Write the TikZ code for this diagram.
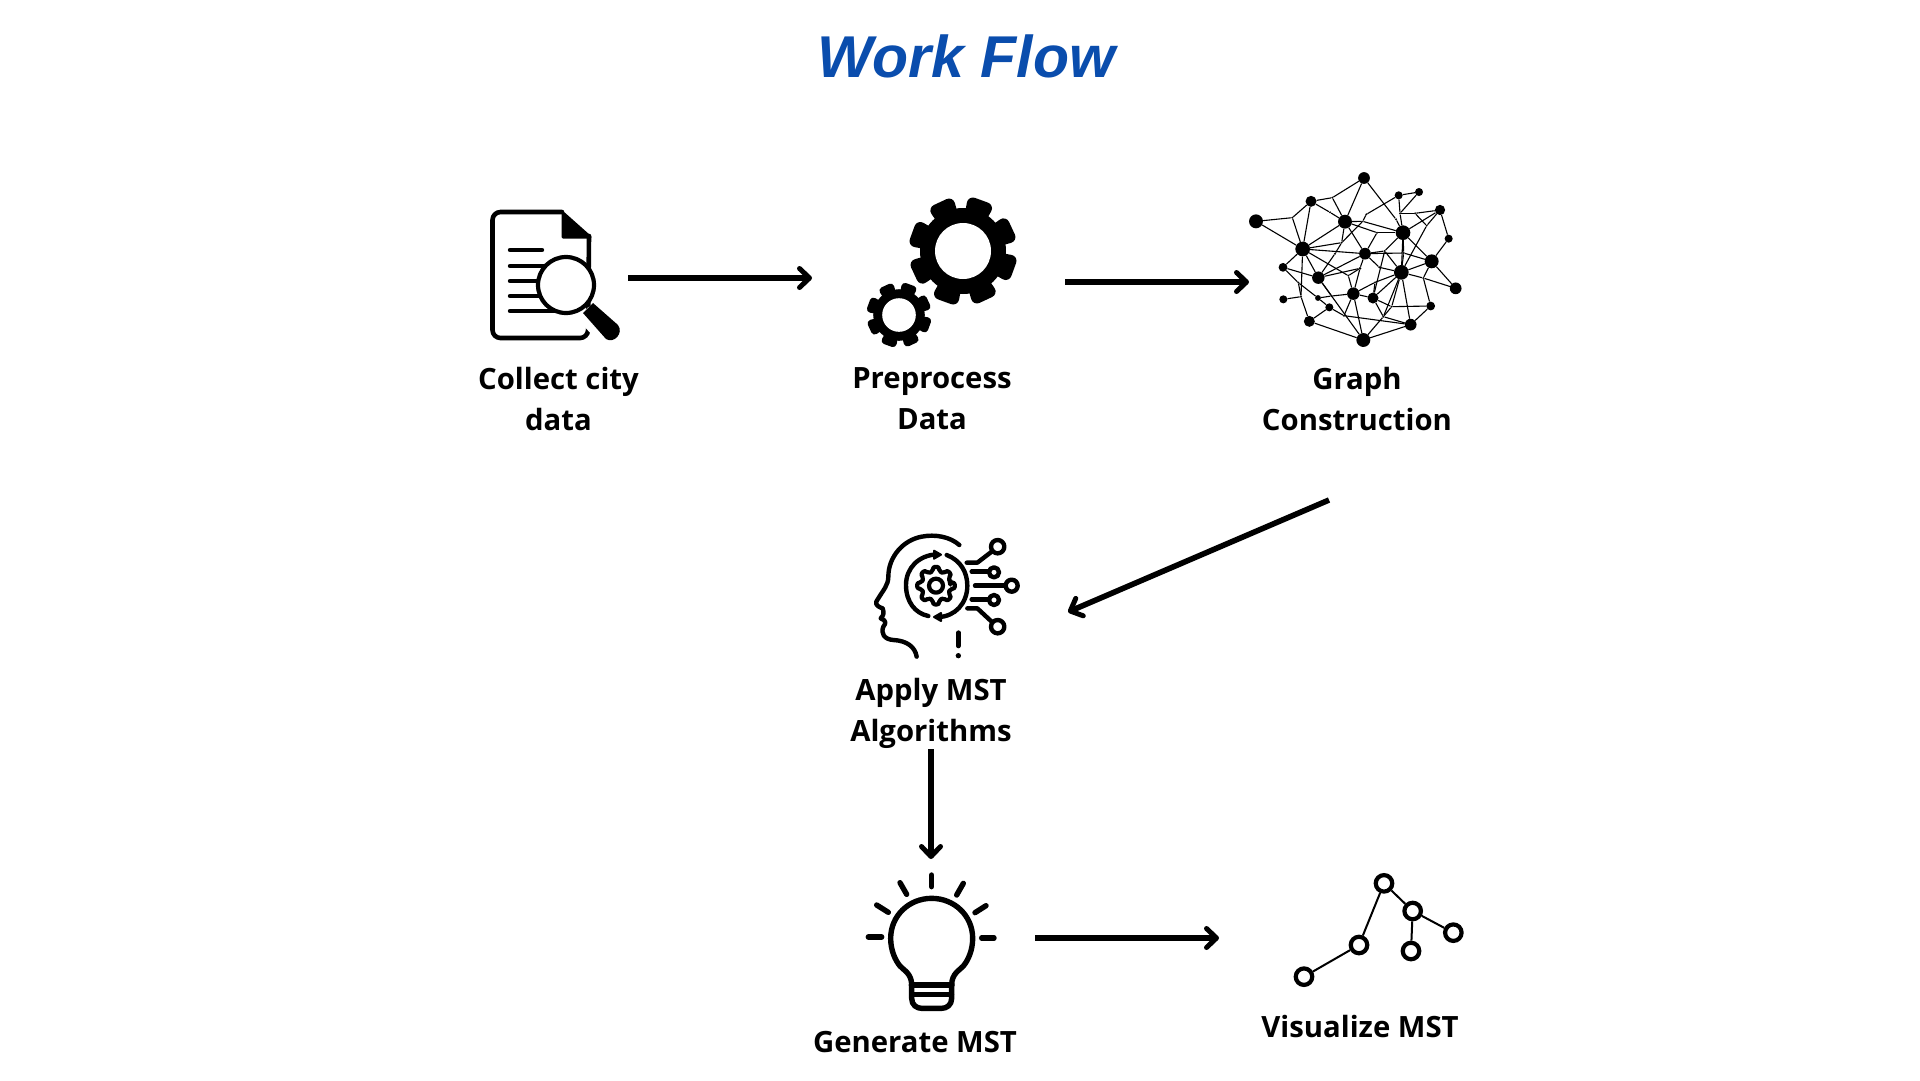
\documentclass[tikz,border=0pt]{standalone}
\usepackage{fontspec}
\setmainfont{Open Sans}
\newfontfamily\titlefont{Liberation Sans}
\usetikzlibrary{arrows.meta}
\definecolor{titleblue}{HTML}{0A4DAD}
\tikzset{
  flowarrow/.style={line width=5.6pt,-{Straight Barb[length=10pt,width=19pt,round,line width=5pt]}},
  label/.style={align=center,font=\fontsize{29.3}{41}\selectfont\bfseries,inner sep=0pt},
  netdot/.style={circle,fill=black,inner sep=0pt},
  netedge/.style={line width=1.1pt,black},
  icon/.style={line width=4.4pt,line cap=round,line join=round},
  cell/.style={shift={(#1)},x=0.33333pt,y=-0.33333pt},
  treenode/.style={circle,draw=black,line width=4.2pt,fill=white,inner sep=0pt,minimum size=16.5pt},
}
\newcommand{\mygear}[3]{%
  \begin{scope}[shift={(#1,#2)}]
    \fill[black] (0,0) circle ({43*#3});
    \foreach \k in {0,...,7}{
      \pgfmathsetmacro{\ang}{70+45*\k}
      \begin{scope}[rotate=\ang]
        \filldraw[black,line width={12*#3 pt},line join=round]
          ({36*#3},{-5*#3}) -- ({48*#3},{-7*#3}) -- ({48*#3},{7*#3}) -- ({36*#3},{5*#3}) -- cycle;
      \end{scope}
    }
    \fill[white] (0,0) circle ({28*#3});
  \end{scope}}
\begin{document}
\begin{tikzpicture}[x=1pt,y=-1pt]
\useasboundingbox (0,0) rectangle (1920,1080);
\fill[white] (0,0) rectangle (1920,1080);

% title
\node[inner sep=0pt,text=titleblue,font=\titlefont\fontsize{59}{60}\selectfont\bfseries\itshape] (title) at (966.5,56) {Work Flow};

% document icon
\begin{scope}[icon]
  \draw[rounded corners=8pt,line width=4.6pt] (562,212) -- (492.5,212) -- (492.5,338) -- (588,338) -- (589,236);
  \filldraw[line width=3pt] (563,213) -- (590,237) -- (563,237) -- cycle;
  \draw (510,250) -- (542,250);
  \draw (510,266) -- (550,266);
  \draw (510,281) -- (550,281);
  \draw (510,296) -- (550,296);
  \draw (510,311) -- (555,311);
  \filldraw[draw=white,fill=white,line width=5pt] (590,309) -- (612,333) -- (600,340) -- (580,318) -- cycle;
  \fill[black] (593,303) -- (618,325) .. controls (624,333) and (614,344) .. (606,339) -- (583,313) -- cycle;
  \filldraw[fill=white,draw=black,line width=4.2pt] (566,285) circle (28);
\end{scope}

% gears
\mygear{963}{251}{1}
\mygear{899}{315}{0.6}

% network
\begin{scope}[cell={1240,160}]
\foreach \n/\x/\y/\r in {A/48/184/19,B/213/124/15,C/372/54/16,D/476/106/11,E/537/96/11,F/600/150/14,G/315/185/19,H/489/218/20,I/626/236/11,J/188/267/20,K/375/281/16,L/575/304/19,M/129/322/12,N/235/353/17,O/484/337/20,P/647/385/16,Q/130/418/11,R/234/414/8,S/340/401/17,T/399/414/15,U/268/442/11,V/208/484/15,W/370/540/19,X/512/494/16,Y/572/438/12,a/157/173/3,b/277/113/3,c/270/157/3,d/379/163/3,e/368/184/2,f/411/218/3,g/468/178/3,h/480/160/3,i/525/160/3,j/560/197/3,k/305/248/3,l/285/281/3,m/434/273/3,n/491/279/3,o/418/322/3,p/360/325/4,q/325/347/3,r/405/367/3,s/550/354/3,t/175/368/3,u/183/410/3,v/275/408/3,w/312/467/3,x/430/470/3,y/455/440/3}
  \node[netdot,minimum size={\r*2/3*1.1pt}] (\n) at (\x,\y) {};
\foreach \p/\q in {A/a,a/B,A/J,a/J,B/J,B/b,b/C,b/G,B/c,c/G,C/G,C/g,g/H,G/J,d/D,d/e,e/k,G/e,e/H,G/f,f/H,f/K,G/K,G/k,k/J,k/l,J/K,J/N,J/M,l/N,K/N,K/n,n/L,H/m,m/O,H/L,H/O,H/n,j/F,H/F,D/h,E/D,E/h,h/i,i/F,i/j,h/H,O/j,F/I,I/L,L/O,L/P,s/L,s/P,O/s,s/Y,O/n,O/o,o/K,K/m,m/T,O/T,O/r,r/S,r/T,O/y,O/x,O/X,T/y,y/Y,y/x,S/T,S/q,q/J,q/p,p/N,p/S,p/K,S/w,S/W,S/v,v/R,R/t,M/t,t/u,M/N,v/N,N/W,T/x,x/X,x/W,w/X,w/U,U/R,U/V,V/u,u/J,u/Q,V/W,W/X,X/Y}
  \draw[netedge] (\p) -- (\q);
\end{scope}

% head icon
\begin{scope}[cell={860,520},icon]
  \draw (298,75) .. controls (270,50) and (225,42) .. (185,50) .. controls (130,60) and (85,110) .. (85,170) .. controls (85,195) and (70,210) .. (55,235) .. controls (42,250) and (48,258) .. (68,265) .. controls (72,278) and (72,285) .. (62,295) .. controls (80,302) and (78,310) .. (70,320) .. controls (62,340) and (72,358) .. (100,360) .. controls (140,362) and (165,380) .. (170,410);
  \draw (232,103) .. controls (175,105) and (138,145) .. (138,195) .. controls (138,245) and (165,280) .. (205,288);
  \filldraw[line width=2pt] (222,92) -- (243,104) -- (222,116) -- cycle;
  \draw (260,105) .. controls (300,120) and (322,155) .. (322,197) .. controls (322,250) and (285,290) .. (235,291);
  \filldraw[line width=2pt] (243,279) -- (222,291) -- (243,303) -- cycle;
  \draw[line width=4.2pt,rounded corners=2pt] (0+228,0+197) ++(-12:44) \foreach \k in {0,...,7}{ -- ({228+57*cos(45*\k-9)},{197+57*sin(45*\k-9)}) -- ({228+57*cos(45*\k+9)},{197+57*sin(45*\k+9)}) -- ({228+44*cos(45*\k+12)},{197+44*sin(45*\k+12)}) -- ({228+44*cos(45*\k+33)},{197+44*sin(45*\k+33)}) } -- cycle;
  \draw[line width=4.2pt] (228,197) circle (21);
  \draw (320,128) -- (352,128) -- (395,95);
  \draw (335,155) -- (385,155);
  \draw (345,197) -- (437,197);
  \draw (335,238) -- (385,238);
  \draw (322,265) -- (352,265) -- (395,305);
  \draw (413,80) circle (20);
  \draw (402,157) circle (15);
  \draw (455,197) circle (18);
  \draw (402,240) circle (15);
  \draw (413,320) circle (20);
  \draw[line width=4.6pt] (295,338) -- (295,378);
  \fill (295,407) circle (8);
\end{scope}

% bulb icon
\begin{scope}[cell={860,870},icon,line width=5.4pt]
  \draw (215,15) -- (215,50);
  \draw (120,38) -- (140,73);
  \draw (50,105) -- (85,127);
  \draw (25,201) -- (65,201);
  \draw (310,40) -- (290,75);
  \draw (378,107) -- (345,128);
  \draw (365,204) -- (402,204);
  \draw (155,345) .. controls (155,310) and (130,300) .. (120,288) .. controls (105,270) and (92,240) .. (92,205) .. controls (92,137) and (147,85) .. (215,85) .. controls (283,85) and (338,137) .. (338,205) .. controls (338,240) and (325,270) .. (310,288) .. controls (300,300) and (275,310) .. (275,345);
  \draw (155,345) -- (155,385) .. controls (155,405) and (170,415) .. (185,415) -- (245,415) .. controls (260,415) and (275,405) .. (275,385) -- (275,345);
  \draw[line width=6pt] (155,345) -- (275,345);
  \draw[line width=5pt] (155,372) -- (275,372);
\end{scope}

% tree icon
\begin{scope}[cell={1280,860}]
  \foreach \n/\x/\y in {t1/312/70,t2/398/153,t3/520/218,t4/393/273,t5/237/255,t6/72/350}
    \node[treenode] (\n) at (\x,\y) {};
  \foreach \p/\q in {t1/t2,t2/t3,t2/t4,t1/t5,t5/t6}
    \draw[line width=2pt] (\p) -- (\q);
\end{scope}

% labels
\node[label] (lab1) at (558.5,399) {Collect city\\data};
\node[label] (lab2) at (932,399) {Preprocess\\Data};
\node[label] (lab3) at (1357,399) {Graph\\Construction};
\node[label] (lab4) at (931,713) {Apply MST\\Algorithms};
\node[label] (lab5) at (915,1042.5) {Generate MST};
\node[label] (lab6) at (1360,1026) {Visualize MST};

% arrows
\coordinate (a1s) at (628,278);
\coordinate (a1e) at (812,278);
\coordinate (a2s) at (1065,282);
\coordinate (a2e) at (1249,282);
\coordinate (a3s) at (1329,500);
\coordinate (a3e) at (1068,612);
\coordinate (a4s) at (931,749);
\coordinate (a4e) at (931,859);
\coordinate (a5s) at (1035,938);
\coordinate (a5e) at (1219,938);
\draw[flowarrow] (a1s) -- (a1e);
\draw[flowarrow] (a2s) -- (a2e);
\draw[flowarrow] (a3s) -- (a3e);
\draw[flowarrow] (a4s) -- (a4e);
\draw[flowarrow] (a5s) -- (a5e);
\end{tikzpicture}
\end{document}
